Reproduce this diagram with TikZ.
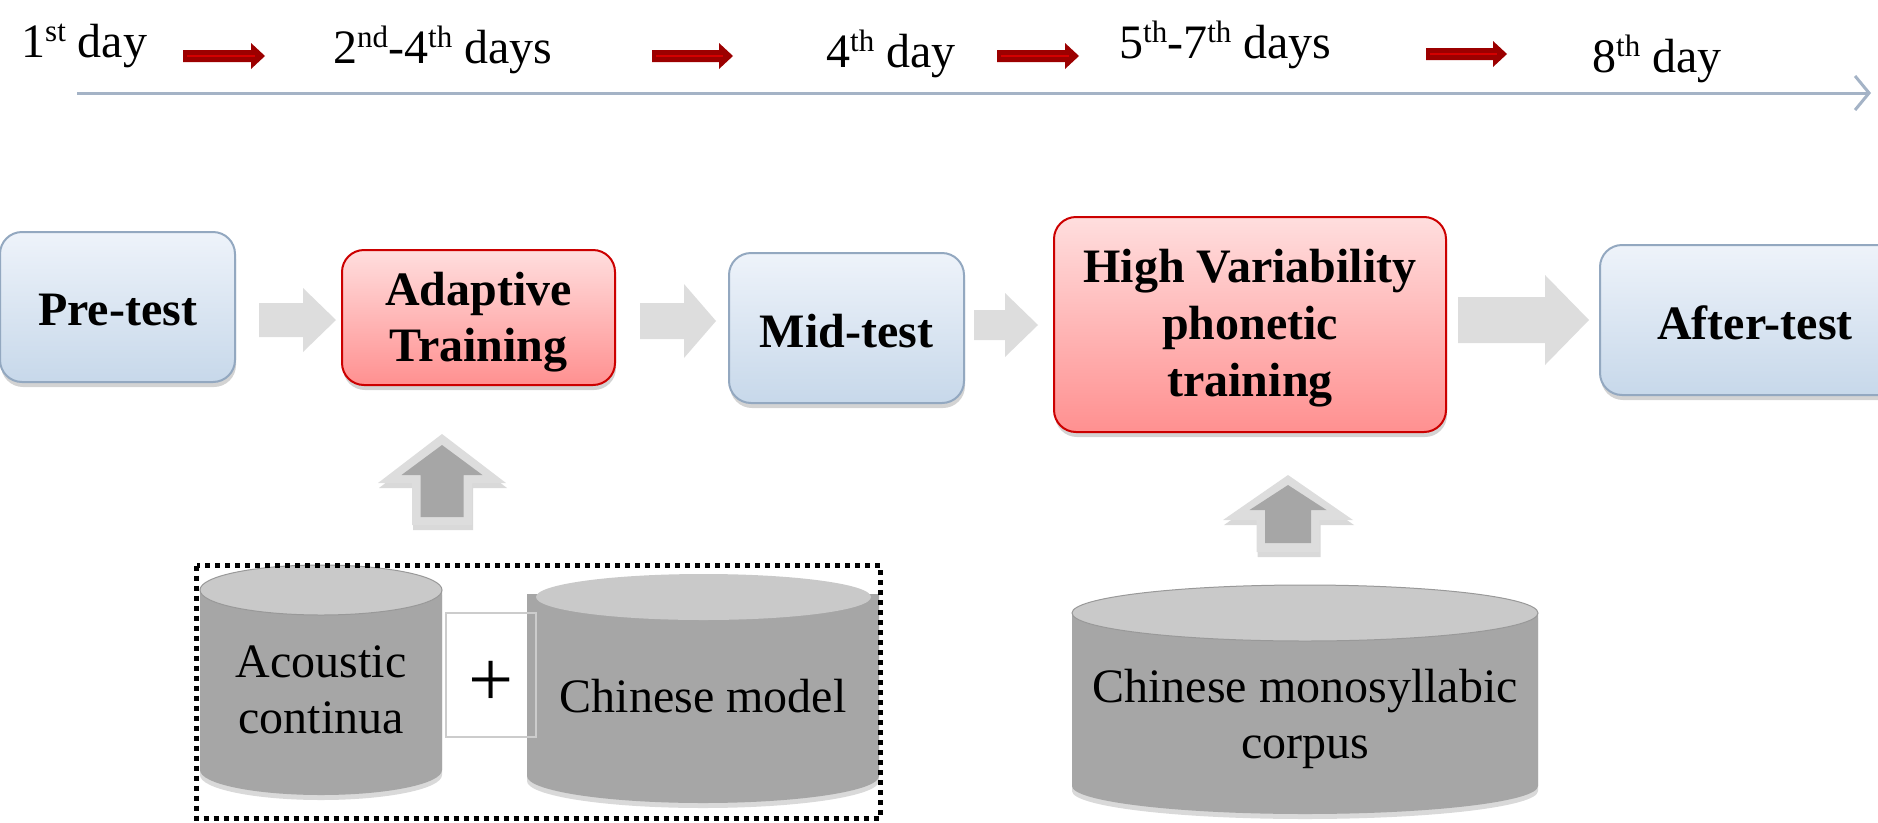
\documentclass[tikz,border=0pt]{standalone}
\usepackage{fontspec}
\setmainfont{Liberation Serif}
\usetikzlibrary{shadows,arrows.meta}
\definecolor{blueTop}{HTML}{EEF3FA}
\definecolor{blueBot}{HTML}{C7D8EA}
\definecolor{blueEdge}{HTML}{93A8C0}
\definecolor{redTop}{HTML}{FFDEDE}
\definecolor{redBot}{HTML}{FF9090}
\definecolor{redEdge}{HTML}{CC0000}
\definecolor{lightArrow}{HTML}{DDDDDD}
\definecolor{darkGray}{HTML}{A6A6A6}
\definecolor{cylTop}{HTML}{C9C9C9}
\definecolor{cylEdge}{HTML}{999999}
\definecolor{timeline}{HTML}{A4B3C6}
\definecolor{darkRed}{HTML}{9C0000}
\definecolor{stripeRed}{HTML}{D40000}
\newcommand\supx[1]{\raisebox{0.33em}{\fontsize{31}{31}\selectfont #1}}
\newcommand\dropt[2]{\raisebox{-#1}[\height][\depth]{#2}}
\newcommand\grayarrow[6]{% x0, xhead, x1, yc, shaft half, head half
  \fill[lightArrow] (#1,{#4-#5}) -- (#2,{#4-#5}) -- (#2,{#4-#6}) -- (#3,#4)
    -- (#2,{#4+#6}) -- (#2,{#4+#5}) -- (#1,{#4+#5}) -- cycle;}
\newcommand\redarrow[3]{% x0, x1, yc
  \fill[darkRed] (#1,{#3-6}) -- ({#2-14},{#3-6}) -- ({#2-14},{#3-13}) -- (#2,#3)
    -- ({#2-14},{#3+13}) -- ({#2-14},{#3+6}) -- (#1,{#3+6}) -- cycle;
  \draw[stripeRed, line width=2.5pt] ({#1+4},#3) -- ({#2-10},#3);}
\newcommand\uppoly[7]{% style, xc, ytip, yhead, head half, shaft half, ybot
  \fill[#1] (#2,#3) -- ({#2+#5},#4) -- ({#2+#6},#4) -- ({#2+#6},#7)
    -- ({#2-#6},#7) -- ({#2-#6},#4) -- ({#2-#5},#4) -- cycle;}
\newcommand\cyl[5]{% xc, ytop, ybot, rx, ry
  \fill[darkGray, drop shadow={shadow xshift=0pt, shadow yshift=-5pt, opacity=0.3}]
    ({#1-#4},#2) -- ({#1-#4},#3) arc[start angle=180, end angle=360, x radius=#4pt, y radius=#5pt]
    -- ({#1+#4},#2) -- cycle;}
\tikzset{
  boxbase/.style={rounded corners=22pt, line width=2pt, align=center,
    font=\fontsize{48}{54}\selectfont\bfseries,
    drop shadow={shadow xshift=1pt, shadow yshift=-5pt, opacity=0.35}},
  bluebox/.style={boxbase, draw=blueEdge, top color=blueTop, bottom color=blueBot},
  redbox/.style={boxbase, draw=redEdge, top color=redTop, bottom color=redBot},
  daylabel/.style={anchor=base west, inner sep=0pt, font=\fontsize{48}{54}\selectfont},
  cyltext/.style={align=center, inner sep=0pt, font=\fontsize{48}{56}\selectfont},
  upouter/.style={lightArrow, drop shadow={shadow xshift=1pt, shadow yshift=-5pt, opacity=0.3}},
  upinner/.style={darkGray},
}
\begin{document}
\begin{tikzpicture}[x=1pt, y=-1pt]
\path[use as bounding box] (0,0) rectangle (1878,822);
\clip (0,0) rectangle (1878,822);

% timeline
\coordinate (tl0) at (77,93);
\coordinate (tl1) at (1871,93);
\draw[timeline, line width=3pt, -{Straight Barb[length=14pt, width=34pt]}] (tl0) -- (tl1);
\node[daylabel] (d1) at (21,57) {1\supx{st} day};
\node[daylabel] (d2) at (333,63) {2\supx{nd}-4\supx{th} days};
\node[daylabel] (d3) at (826,67) {4\supx{th} day};
\node[daylabel] (d4) at (1119,58) {5\supx{th}-7\supx{th} days};
\node[daylabel] (d5) at (1592,72) {8\supx{th} day};
\redarrow{183}{265}{56}
\redarrow{652}{733}{56}
\redarrow{997}{1079}{56}
\redarrow{1426}{1507}{54}

% process boxes
\node[bluebox, minimum width=235pt, minimum height=150pt] (pre) at (117.5,307) {\dropt{3pt}{Pre-test}};
\node[redbox, minimum width=273pt, minimum height=135pt, font=\fontsize{48}{56}\selectfont\bfseries] (ada) at (478.5,317.5) {\dropt{5pt}{Adaptive}\\\dropt{5pt}{Training}};
\node[bluebox, minimum width=235pt, minimum height=150pt] (mid) at (846.5,328) {\dropt{3pt}{Mid-test}};
\node[redbox, minimum width=392pt, minimum height=215pt, font=\fontsize{48}{57}\selectfont\bfseries] (hv) at (1250,324.5) {\dropt{4pt}{High Variability}\\\dropt{4pt}{phonetic}\\\dropt{4pt}{training}};
\node[bluebox, minimum width=310pt, minimum height=150pt] (aft) at (1755,320) {\dropt{3pt}{After-test}};

% block arrows between boxes
\grayarrow{259}{303}{336}{320}{17}{32}
\grayarrow{640}{684}{716}{321}{18}{37}
\grayarrow{974}{1005}{1038}{325}{15}{32}
\grayarrow{1458}{1545}{1589}{320}{23}{45}

% up arrows
\uppoly{upouter}{442}{434}{483}{64}{30}{525}
\uppoly{upinner}{442}{445}{475}{40.5}{21.5}{517}
\uppoly{upouter}{1288}{475}{520}{65}{31.5}{552}
\uppoly{upinner}{1288}{485}{510}{38.5}{23}{543}

% cylinders
\cyl{321}{590}{770}{121}{25}
\filldraw[fill=cylTop, draw=cylEdge, line width=1pt] (321,590) ellipse [x radius=121pt, y radius=25pt];
\node[cyltext] (ac) at (321,690) {Acoustic\\continua};

\cyl{703}{594}{776}{176}{27}
\fill[cylTop] (703.5,597) ellipse [x radius=167.5pt, y radius=23pt];
\node[cyltext] (cm) at (703,696) {Chinese model};

\cyl{1305}{613}{786}{233}{28}
\filldraw[fill=cylTop, draw=cylEdge, line width=1pt] (1305,613) ellipse [x radius=233pt, y radius=28pt];
\node[cyltext] (corp) at (1305,719) {Chinese monosyllabic\\corpus};

% plus box
\node[draw=black!20, line width=1.5pt, minimum width=90pt, minimum height=124pt] (plusbox) at (491,675) {};
\node[inner sep=0pt, font=\fontsize{80}{80}\selectfont] (plus) at (491,684) {+};

% dotted frame
\draw[line width=5pt, dash pattern=on 5pt off 5pt] (196.5,565.5) rectangle (880,818.5);
\end{tikzpicture}
\end{document}
